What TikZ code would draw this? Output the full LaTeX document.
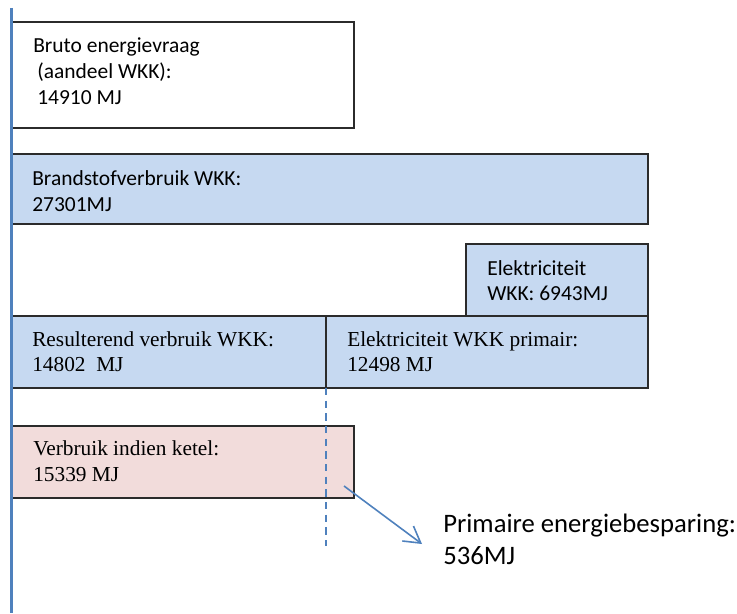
\documentclass[tikz,border=0pt]{standalone}
\usepackage{fontspec}
\setmainfont{Carlito}
\newfontfamily\timesf{Liberation Serif}
\usetikzlibrary{fit,arrows.meta}
\definecolor{boxblue}{HTML}{C6D9F1}
\definecolor{boxpink}{HTML}{F2DCDB}
\definecolor{lineblue}{HTML}{4F81BD}
\definecolor{edge}{HTML}{2B2B2B}
\tikzset{
  box/.style={draw=edge, line width=1.1pt, inner sep=0pt},
  calt/.style={anchor=base west, inner sep=0pt, font=\fontsize{16.1}{19}\selectfont},
  timt/.style={anchor=base west, inner sep=0pt, font=\timesf\fontsize{16}{19}\selectfont},
  bigt/.style={anchor=base west, inner sep=0pt, font=\fontsize{20}{24}\selectfont},
  guide/.style={draw=lineblue, line width=1.2pt},
}
\begin{document}
\begin{tikzpicture}[x=0.75pt,y=-0.75pt]
\useasboundingbox (0,0) rectangle (737,613);
% boxes
\node[box, fill=white, fit={(12,22) (354,128)}] (b1) {};
\node[box, fill=boxblue, fit={(12,154) (648,224)}] (b2) {};
\node[box, fill=boxblue, fit={(466,244) (648,316)}] (b3) {};
\node[box, fill=boxblue, fit={(12,316) (326,388)}] (b4) {};
\node[box, fill=boxblue, fit={(326,316) (648,388)}] (b5) {};
\node[box, fill=boxpink, fit={(12,426) (354,498)}] (b6) {};
% texts
\node[calt] (t1a) at (33,53) {Bruto energievraag};
\node[calt] (t1b) at (37,79) {(aandeel WKK):};
\node[calt] (t1c) at (37,104) {14910 MJ};
\node[calt] (t2a) at (32,185) {Brandstofverbruik WKK:};
\node[calt] (t2b) at (32,211) {27301MJ};
\node[calt] (t3a) at (487,275) {Elektriciteit};
\node[calt] (t3b) at (487,300) {WKK: 6943MJ};
\node[timt] (t4a) at (32,346) {Resulterend verbruik WKK:};
\node[timt] (t4b) at (32,371) {14802\ \ MJ};
\node[timt] (t5a) at (347,346) {Elektriciteit WKK primair:};
\node[timt] (t5b) at (347,371) {12498 MJ};
\node[timt] (t6a) at (33,455) {Verbruik indien ketel:};
\node[timt] (t6b) at (33,481) {15339 MJ};
\node[bigt] (t7a) at (443,532) {Primaire energiebesparing:};
\node[bigt] (t7b) at (443,564) {536MJ};
% dashed guide
\coordinate (dtop) at (326,388);
\coordinate (dbot) at (326,546);
\draw[guide, dash pattern=on 5.5pt off 4pt] (dtop) -- (dbot);
% arrow
\coordinate (as) at (344,486);
\coordinate (ae) at (422,544);
\draw[guide, -{Straight Barb[length=12pt,width=14pt,line width=1.2pt]}] (as) -- (ae);
% vertical axis line
\coordinate (vtop) at (11.5,8);
\coordinate (vbot) at (11.5,613);
\draw[draw=lineblue, line width=2pt] (vtop) -- (vbot);
\end{tikzpicture}
\end{document}
